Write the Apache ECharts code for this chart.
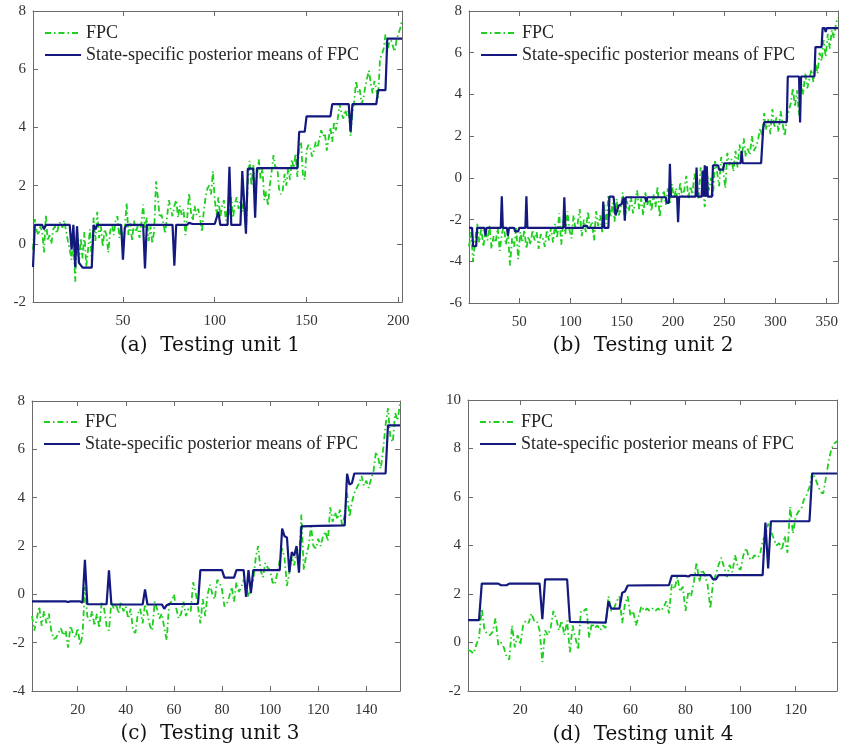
<!DOCTYPE html>
<html>
<head>
<meta charset="utf-8">
<script src="https://cdn.jsdelivr.net/npm/echarts@6/dist/echarts.min.js"></script>
<style>html,body{margin:0;padding:0;background:#fff;}#c{width:844px;height:755px;}</style>
</head>
<body>
<div id="c"></div>
<script>
// ---------- DATA ----------
const seriesNames = ['FPC', 'State-specific posterior means of FPC'];
const panelTitles = ['(a)  Testing unit 1', '(b)  Testing unit 2', '(c)  Testing unit 3', '(d)  Testing unit 4'];

const xTicksA = [50, 100, 150, 200];
const xTicksB = [50, 100, 150, 200, 250, 300, 350];
const xTicksC = [20, 40, 60, 80, 100, 120, 140];
const xTicksD = [20, 40, 60, 80, 100, 120];

// FPC, unit 1 (x = 1..202)
const fpcA = [
 -0.2, 0.85, 0.45, 0.3, 0.6, 0.4, -0.3, 1.0, 0.1, 0.3,
 0.0, 0.5, 0.6, 0.35, 0.65, 0.75, 0.55, 0.8, 0.45, 0.1,
 -0.2, -0.55, 0.3, -1.3, 0.6, -0.7, 0.2, -0.5, 0.4, -0.8,
 -0.2, 0.5, -0.6, 0.9, 0.1, 1.1, 0.2, 0.6, -0.1, 0.5,
 0.3, -0.3, 0.4, 0.7, 0.3, 0.8, 0.95, 0.2, 0.6, 0.0,
 0.5, 1.4, 0.3, 0.7, 0.1, 0.8, 0.4, 0.6, 0.2, 0.7,
 1.35, 0.5, 0.9, 0.1, 0.6, 0.0, 0.45, 2.15, 1.6, 0.9,
 1.0, 0.7, 0.35, 0.9, 1.5, 1.2, 0.95, 1.3, 1.5, 0.9,
 1.3, 1.0, 1.2, 0.3, 0.9, 1.75, 1.1, 0.8, 1.3, 1.0,
 1.2, 0.9, 0.4, 1.1, 1.6, 1.9, 2.0, 1.7, 2.5, 1.5,
 1.0, 1.6, 0.9, 1.3, 1.5, 0.8, 1.2, 1.0, 1.6, 0.9,
 1.4, 1.6, 1.2, 1.5, 1.1, 1.6, 0.4, 2.1, 2.85, 2.0,
 2.7, 1.9, 2.3, 2.9, 2.2, 2.6, 1.5, 1.8, 1.3, 2.0,
 2.5, 3.05, 2.6, 2.7, 1.9, 1.7, 1.8, 2.4, 2.0, 2.6,
 2.2, 2.9, 2.6, 3.1, 2.3, 3.4, 3.5, 2.4, 2.2, 3.2,
 3.4, 3.3, 3.0, 3.2, 3.5, 3.3, 3.6, 3.9, 3.7, 3.8,
 3.2, 3.6, 4.0, 3.5, 4.2, 3.9, 4.3, 4.8, 4.5, 4.3,
 4.6, 4.4, 4.6, 3.7, 4.5, 4.9, 5.6, 5.2, 5.3, 4.8,
 5.0, 5.4, 5.7, 5.95, 5.5, 5.17, 5.6, 5.3, 5.0, 6.35,
 6.5, 6.7, 7.2, 6.6, 6.9, 7.0, 6.8, 6.6, 7.0, 7.2,
 7.4, 7.7
];
const meanA = [
 [1,-0.8],[2,0.65],[6,0.65],[7,0.5],[8,0.65],[21,0.65],[22,-0.2],[23,0.65],[24,-0.8],[25,0.6],
 [26,-0.65],[27,-0.6],[28,-0.82],[33,-0.82],[34,0.65],[35,0.5],[36,0.65],[49,0.65],[50,-0.55],[51,0.55],
 [52,0.65],[61,0.65],[62,-0.85],[63,0.65],[77,0.65],[78,-0.75],[79,0.65],[85,0.65],[86,0.72],[88,0.68],
 [100,0.68],[102,1.1],[103,0.65],[107,0.65],[108,2.65],[109,0.65],[114,0.65],[115,2.5],[117,0.35],[118,2.58],
 [121,2.58],[122,0.9],[123,2.6],[145,2.6],[146,3.85],[149,3.85],[150,4.38],[163,4.38],[164,4.8],[173,4.8],
 [174,3.85],[175,4.8],[188,4.8],[189,5.28],[193,5.28],[194,7.05],[202,7.05]
];

// FPC, unit 2 (x = 1, 3, 5, ..., 361)
const fpcB = [
 -3.3, -2.6, -4.0, -3.0, -2.2, -3.1, -2.4, -3.3, -2.6, -3.0,
 -2.3, -3.4, -2.8, -3.1, -2.4, -3.5, -2.7, -2.3, -3.2, -2.6,
 -4.2, -2.9, -3.3, -2.4, -3.9, -2.6, -3.1, -2.5, -3.4, -2.8,
 -3.2, -2.5, -3.0, -2.6, -3.4, -2.7, -2.9, -3.3, -2.5, -3.0,
 -2.4, -3.1, -2.2, -2.9, -1.7, -3.2, -2.0, -2.7, -1.6, -2.5,
 -2.9, -1.8, -2.5, -2.2, -1.5, -2.8, -2.0, -2.6, -1.6, -2.4,
 -2.1, -3.0, -1.6, -2.3, -1.8, -2.6, -1.3, -2.2, -0.8, -1.9,
 -1.2, -2.1, -1.0, -1.8, -1.5, -0.7, -2.0, -1.1, -1.6, -0.9,
 -1.7, -1.2, -0.6, -1.5, -1.0, -1.8, -0.7, -1.3, -0.9, -1.6,
 -0.8, -1.4, -0.4, -1.9, -1.0, -0.6, -1.3, -0.5, -1.2, -0.3,
 -1.0, -0.5, -1.3, -0.2, -0.9, -0.6, 0.1, -1.0, -0.4, -0.8,
 0.2, -0.5, -1.0, 0.5, -0.3, -1.4, 0.3, -0.6, 0.0, -0.9,
 0.8, 0.3, -0.4, 1.0, 0.4, -0.5, 1.2, 0.6, 0.9, 0.3,
 1.3, 0.5, 1.6, 0.8, 1.9, 1.0, 1.4, 1.1, 2.0, 1.3,
 1.5, 1.8, 2.4, 2.0, 3.1, 2.3, 2.8, 2.1, 3.3, 2.4,
 2.9, 2.2, 3.2, 2.6, 2.0, 2.8, 3.2, 3.6, 4.3, 3.4,
 4.2, 3.0, 4.6, 4.0, 5.0, 4.3, 4.7, 5.2, 4.6, 5.5,
 5.0, 6.0, 5.6, 6.6, 5.8, 6.9, 6.2, 7.1, 6.7, 7.4,
 7.7
];
const meanB = [
 [1,-2.4],[4,-2.4],[5,-3.28],[8,-3.28],[9,-2.4],[16,-2.4],[17,-2.77],[18,-2.4],[32,-2.4],[33,-0.88],
 [34,-2.4],[38,-2.4],[39,-2.77],[40,-2.4],[45,-2.4],[46,-2.57],[49,-2.57],[50,-2.4],[56,-2.4],[57,-0.88],
 [58,-2.4],[93,-2.4],[94,-0.93],[95,-2.4],[112,-2.4],[113,-2.3],[116,-2.3],[117,-2.4],[131,-2.4],[132,-1.14],
 [133,-2.4],[137,-2.4],[138,-0.9],[142,-0.9],[144,-1.8],[145,-1.8],[147,-1.33],[150,-1.25],[152,-0.95],[153,-2.05],
 [154,-0.93],[173,-0.93],[174,-1.17],[175,-0.93],[193,-0.93],[194,-1.2],[196,-1.2],[197,0.67],[198,-0.9],[204,-0.9],
 [205,-2.13],[206,-0.9],[222,-0.9],[223,0.5],[224,-0.9],[228,-0.9],[229,0.35],[230,-0.9],[231,0.6],[232,-0.9],
 [233,0.55],[234,-0.9],[238,-0.9],[239,0.6],[244,0.6],[245,0.39],[249,0.39],[250,0.7],[266,0.7],[267,1.3],
 [268,0.7],[286,0.7],[288,2.35],[289,2.67],[311,2.67],[312,4.86],[323,4.86],[324,2.65],[325,4.86],[338,4.86],
 [339,6.27],[345,6.27],[346,7.18],[348,7.18],[349,6.99],[350,7.18],[361,7.18]
];

// FPC, unit 3 (x = 1..154)
const fpcC = [
 -0.9, -1.5, -1.0, -0.5, -1.3, -0.7, -1.2, -0.8, -1.5, -1.85,
 -1.8, -1.6, -1.4, -1.7, -1.5, -2.2, -1.3, -1.6, -1.8, -1.4,
 -2.1, -1.7, 0.3, -0.9, -1.1, -0.7, -1.3, -0.8, -1.4, -0.3,
 -0.6, -1.3, -1.5, -0.3, -0.6, -0.4, -0.8, -0.3, -0.7, -0.5,
 -1.0, -0.6, -1.5, -1.6, -0.8, -0.6, -1.2, -0.4, -0.8, -1.3,
 -1.5, -0.3, -0.6, -1.0, -0.8, -1.4, -1.9, -0.4, -0.3, 0.0,
 -0.6, -1.0, -0.8, -0.3, -0.9, -0.6, -0.7, 0.5, 0.1, -0.5,
 -1.2, -0.2, -0.9, 0.0, 0.4, 0.0, -0.2, 0.6, 0.5, 0.2,
 -0.5, -0.4, -0.1, 0.3, -0.3, 0.5, 0.1, 0.3, 0.6, 0.4,
 -0.1, 0.2, 0.6, 1.5, 2.0, 1.0, 0.7, 1.3, 1.1, 1.0,
 0.5, 0.4, 0.9, 1.4, 1.9, 1.5, 0.35, 0.9, 1.6, 1.2,
 1.8, 1.4, 3.3, 1.0, 1.6, 2.0, 2.8, 2.0, 1.9, 2.3,
 2.0, 2.4, 2.6, 2.2, 3.6, 3.0, 3.4, 3.1, 3.5, 2.8,
 3.3, 4.2, 3.2, 3.8, 4.2, 4.4, 4.6, 4.9, 4.5, 4.7,
 4.4, 4.8, 5.1, 5.9, 5.6, 5.2, 6.0, 7.0, 7.7, 6.5,
 6.3, 7.5, 7.2, 7.9
];
const meanC = [
 [1,-0.29],[15,-0.29],[16,-0.32],[17,-0.29],[21,-0.29],[22,-0.35],[23,1.43],[24,-0.41],[32,-0.41],[33,0.99],
 [34,-0.42],[47,-0.42],[48,0.2],[49,-0.42],[55,-0.42],[56,-0.6],[57,-0.45],[58,-0.4],[70,-0.4],[71,1.0],
 [80,1.0],[81,0.69],[85,0.69],[86,1.0],[89,1.0],[90,-0.11],[91,1.0],[92,0.05],[93,1.0],[104,1.0],
 [105,2.72],[106,2.4],[107,2.35],[108,0.92],[109,1.75],[110,1.6],[111,2.0],[112,0.9],[113,2.81],[120,2.83],
 [131,2.85],[132,4.99],[133,4.54],[134,4.6],[135,5.0],[148,5.0],[149,6.99],[154,6.99]
];

// FPC, unit 4 (x = 1..135)
const fpcD = [
 -0.3, -0.35, -0.45, -0.1, 0.2, 1.4, 0.5, 0.35, 0.3, 0.45,
 1.0, -0.1, 0.0, -0.2, -0.6, -0.7, 0.7, -0.2, 0.3, -0.1,
 0.7, 0.9, 0.8, 1.2, 0.9, 0.9, 0.5, -0.8, 0.5, 0.3,
 0.6, 1.3, 1.0, 0.5, 0.9, 0.3, 0.9, -0.4, 0.7, 0.2,
 -0.3, 1.3, 1.3, 1.4, 0.2, 0.8, 0.6, 0.7, 0.5, 0.7,
 0.6, 1.9, 1.3, 1.4, 1.7, 1.9, 0.8, 1.6, 1.9, 1.1,
 1.3, 0.7, 1.1, 1.5, 1.3, 1.4, 1.3, 1.4, 1.3, 1.4,
 1.3, 1.45, 1.7, 1.2, 2.4, 2.2, 2.7, 2.1, 2.3, 1.3,
 2.1, 1.9, 2.5, 3.3, 2.5, 3.0, 2.8, 2.4, 1.4, 2.5,
 2.8, 3.2, 3.5, 3.1, 2.7, 3.2, 2.9, 3.6, 3.1, 3.0,
 3.6, 3.9, 3.5, 3.4, 3.6, 3.5, 3.6, 4.2, 4.4, 4.9,
 4.6, 4.3, 4.0, 4.1, 3.8, 4.4, 3.7, 5.6, 4.5, 5.2,
 5.4, 5.5, 5.9, 6.1, 6.4, 7.0, 6.8, 6.5, 6.2, 6.15,
 6.8, 7.5, 8.0, 8.2, 8.3
];
const meanD = [
 [1,0.92],[5,0.92],[6,2.43],[12,2.43],[13,2.36],[15,2.36],[16,2.43],[27,2.43],[28,0.96],[29,2.6],
 [37,2.6],[38,0.85],[51,0.82],[52,1.7],[53,1.4],[56,1.4],[57,2.05],[58,2.1],[59,2.35],[74,2.37],
 [75,2.75],[80,2.75],[81,2.72],[82,2.78],[89,2.78],[90,2.6],[91,2.6],[92,2.78],[108,2.78],[109,4.95],
 [110,3.05],[111,5.0],[125,5.0],[126,6.97],[135,6.97]
];

// ---------- LAYOUT ----------
const panels = [
  {fpc: fpcA, start: 1, step: 1, mean: meanA, xTicks: xTicksA, xMin: 1, xMax: 202, yMin: -2, yMax: 8,
   grid: {left: 33, top: 11, width: 369, height: 291}, legend: {left: 44, top: 22}, title: {x: 210, y: 346}},
  {fpc: fpcB, start: 1, step: 2, mean: meanB, xTicks: xTicksB, xMin: 1, xMax: 361, yMin: -6, yMax: 8,
   grid: {left: 469, top: 11, width: 369, height: 292}, legend: {left: 480, top: 22}, title: {x: 643, y: 346}},
  {fpc: fpcC, start: 1, step: 1, mean: meanC, xTicks: xTicksC, xMin: 1, xMax: 154, yMin: -4, yMax: 8,
   grid: {left: 32, top: 401, width: 368, height: 290}, legend: {left: 43, top: 411}, title: {x: 210, y: 734}},
  {fpc: fpcD, start: 1, step: 1, mean: meanD, xTicks: xTicksD, xMin: 1, xMax: 135, yMin: -2, yMax: 10,
   grid: {left: 468, top: 400, width: 369, height: 291}, legend: {left: 479, top: 411}, title: {x: 643, y: 735}}
];

const GREEN = '#1ecf1e';
const NAVY = '#13197e';
const AXIS = '#6b6b6b';
const LABEL = '#333333';
const SERIF = 'Liberation Serif';

const chart = echarts.init(document.getElementById('c'), null, {renderer: 'canvas'});

const option = {
  backgroundColor: '#fff',
  animation: false,
  grid: [], xAxis: [], yAxis: [], series: [], legend: [], graphic: []
};

panels.forEach((p, k) => {
  option.grid.push(Object.assign({containLabel: false}, p.grid));
  const axLine = {show: true, onZero: false, lineStyle: {color: AXIS, width: 1}};
  const tick = (vals) => ({show: true, inside: true, length: 5, customValues: vals, lineStyle: {color: AXIS, width: 1}});
  // bottom
  option.xAxis.push({type: 'value', gridIndex: k, min: p.xMin, max: p.xMax, position: 'bottom',
    axisLine: axLine, axisTick: tick(p.xTicks), splitLine: {show: false},
    axisLabel: {customValues: p.xTicks, color: LABEL, fontFamily: SERIF, fontSize: 15, margin: 12}});
  // top (box)
  option.xAxis.push({type: 'value', gridIndex: k, min: p.xMin, max: p.xMax, position: 'top',
    axisLine: axLine, axisTick: tick(p.xTicks), splitLine: {show: false}, axisLabel: {show: false}});
  // left
  option.yAxis.push({type: 'value', gridIndex: k, min: p.yMin, max: p.yMax, interval: 2, position: 'left',
    axisLine: axLine, axisTick: {show: true, inside: true, length: 5, lineStyle: {color: AXIS}}, splitLine: {show: false},
    axisLabel: {color: LABEL, fontFamily: SERIF, fontSize: 15, margin: 7}});
  // right (box)
  option.yAxis.push({type: 'value', gridIndex: k, min: p.yMin, max: p.yMax, interval: 2, position: 'right',
    axisLine: axLine, axisTick: {show: true, inside: true, length: 5, lineStyle: {color: AXIS}}, splitLine: {show: false},
    axisLabel: {show: false}});

  const fpcData = p.fpc.map((v, i) => [p.start + i * p.step, v]);
  option.series.push({name: seriesNames[0], type: 'line', xAxisIndex: 2 * k, yAxisIndex: 2 * k,
    data: fpcData, symbol: 'none', showSymbol: false, clip: true, z: 2,
    lineStyle: {color: GREEN, width: 1.8, type: [6, 3, 1.5, 3]}, itemStyle: {color: GREEN}});
  option.series.push({name: seriesNames[1], type: 'line', xAxisIndex: 2 * k, yAxisIndex: 2 * k,
    data: p.mean, symbol: 'none', showSymbol: false, clip: true, z: 3,
    lineStyle: {color: NAVY, width: 2.2}, itemStyle: {color: NAVY}});

  option.legend.push({orient: 'vertical', left: p.legend.left, top: p.legend.top, padding: 0, itemGap: 0,
    itemWidth: 36, itemHeight: 14, data: seriesNames, selectedMode: false,
    itemStyle: {opacity: 0, borderWidth: 0},
    textStyle: {fontFamily: SERIF, fontSize: 18, color: '#262626', lineHeight: 22, height: 22}});

  option.graphic.push({type: 'text', x: p.title.x, y: p.title.y, silent: true,
    style: {text: panelTitles[k], fontFamily: 'DejaVu Serif', fontSize: 20, fill: '#111',
      textAlign: 'center', textVerticalAlign: 'middle'}});
});

chart.setOption(option);
</script>
</body>
</html>
